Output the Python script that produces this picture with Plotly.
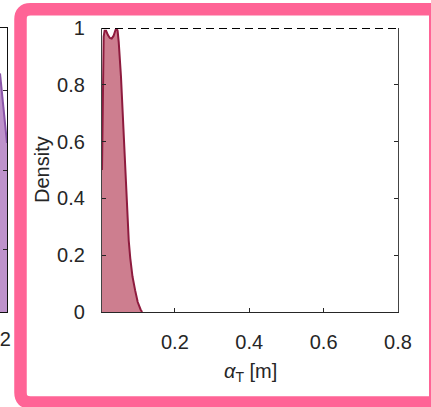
import plotly.graph_objects as go

W, H = 431, 407

# ---- data ----
alpha_T = [0.004, 0.0055, 0.007, 0.0085, 0.011, 0.015, 0.020, 0.025, 0.030, 0.035,
           0.040, 0.043, 0.046, 0.049, 0.055, 0.060, 0.065, 0.071, 0.076, 0.080,
           0.086, 0.093, 0.100, 0.108, 0.112]
density = [0.50, 0.72, 0.90, 0.97, 0.99, 0.99, 0.975, 0.965, 0.963, 0.972,
           0.992, 1.0, 0.99, 0.95, 0.83, 0.69, 0.53, 0.36, 0.25, 0.19,
           0.125, 0.077, 0.035, 0.008, 0.0]
ref_x = [0.004, 0.8]
ref_y = [1.0, 1.0]
x_ticks = [0.2, 0.4, 0.6, 0.8]
x_ticktext = ["0.2", "0.4", "0.6", "0.8"]
y_ticks = [0, 0.2, 0.4, 0.6, 0.8, 1.0]
y_ticktext = ["0", "0.2", "0.4", "0.6", "0.8", "1"]

# neighbouring (cropped) panel fragment
left_x = [0.0, 1.0]
left_y = [0.84, 0.595]
left_yticks = [0.22, 0.5, 0.78]

TXT = "#262626"
FONT = "Liberation Sans, Arial, sans-serif"


def px(x):
    return x / W


def py(y):
    return 1 - y / H


fig = go.Figure()

# main density
fig.add_trace(go.Scatter(x=alpha_T, y=density, mode="lines", fill="tozeroy",
                         fillcolor="rgba(198,108,128,0.88)",
                         line=dict(color="#8E1B3E", width=2),
                         xaxis="x", yaxis="y", showlegend=False, hoverinfo="skip"))
fig.add_trace(go.Scatter(x=ref_x, y=ref_y, mode="lines",
                         line=dict(color="#000000", width=2, dash="8px,5px"),
                         xaxis="x", yaxis="y", showlegend=False, hoverinfo="skip",
                         cliponaxis=False))

# cropped neighbour panel
fig.add_trace(go.Scatter(x=left_x, y=left_y, mode="lines", fill="tozeroy",
                         fillcolor="rgba(186,140,200,0.95)",
                         line=dict(color="#8A55A8", width=2),
                         xaxis="x2", yaxis="y2", showlegend=False, hoverinfo="skip"))

ydom = [py(312), py(28)]

fig.update_layout(
    template="none",
    width=W, height=H, autosize=False,
    margin=dict(l=0, r=0, t=0, b=0, pad=0),
    paper_bgcolor="white", plot_bgcolor="white",
    font=dict(family=FONT, size=20, color=TXT),
    xaxis=dict(domain=[px(102), px(398)], range=[0.004, 0.8], automargin=False,
               tickvals=x_ticks, ticktext=x_ticktext,
               ticks="inside", ticklen=4, tickcolor=TXT, tickwidth=1,
               showline=True, linecolor=TXT, linewidth=1.2,
               showgrid=False, zeroline=False, mirror=False,
               ticklabelstandoff=12, tickfont=dict(size=20, color=TXT)),
    yaxis=dict(domain=ydom, range=[0, 1], automargin=False,
               tickvals=y_ticks, ticktext=y_ticktext,
               ticks="inside", ticklen=4, tickcolor=TXT, tickwidth=1,
               showline=True, linecolor="#444444", linewidth=1.2,
               showgrid=False, zeroline=False, mirror="ticks",
               ticklabelstandoff=12, tickfont=dict(size=20, color=TXT)),
    xaxis2=dict(domain=[0, px(7)], range=[0, 1], anchor="y2", automargin=False,
                showticklabels=False, ticks="", showline=True, linecolor="#111111",
                linewidth=1.2, mirror=True, showgrid=False, zeroline=False),
    yaxis2=dict(domain=ydom, range=[0, 1], anchor="x2", side="right", automargin=False,
                tickvals=left_yticks, showticklabels=False,
                ticks="inside", ticklen=4, tickcolor=TXT,
                showline=True, linecolor="#111111", linewidth=1.2,
                showgrid=False, zeroline=False),
)

annotations = [
    dict(text="Density", x=px(42), y=(ydom[0] + ydom[1]) / 2, xref="paper", yref="paper",
         textangle=-90, showarrow=False, font=dict(size=20, color=TXT),
         xanchor="center", yanchor="middle"),
    dict(text="<i>α</i><sub>T</sub> [m]", x=px(250), y=py(372), xref="paper", yref="paper",
         showarrow=False, font=dict(size=20, color=TXT), xanchor="center", yanchor="middle"),
    dict(text="0.2", x=px(-3), y=py(339), xref="paper", yref="paper",
         showarrow=False, font=dict(size=20, color=TXT), xanchor="center", yanchor="middle"),
]
fig.update_layout(annotations=annotations)

# pink highlight frame (rounded, partly off-canvas)
def P(x, y):
    return f"{px(x):.5f},{py(y):.5f}"

L, T, R, B, r = 20.5, 9.3, 440, 402.5, 10
path = (f"M {P(R, T)} L {P(L + r, T)} Q {P(L, T)} {P(L, T + r)} "
        f"L {P(L, B - r)} Q {P(L, B)} {P(L + r, B)} L {P(R, B)}")
fig.add_shape(type="path", path=path, xref="paper", yref="paper",
              line=dict(color="#FF6496", width=12.5), fillcolor="rgba(0,0,0,0)",
              layer="above")
# thin right edge visible at the canvas border
fig.add_shape(type="line", xref="paper", yref="paper",
              x0=px(430.5), x1=px(430.5), y0=py(3), y1=py(407),
              line=dict(color="#FF6496", width=3), layer="above")

fig.write_html("out.html", config={"responsive": False})
